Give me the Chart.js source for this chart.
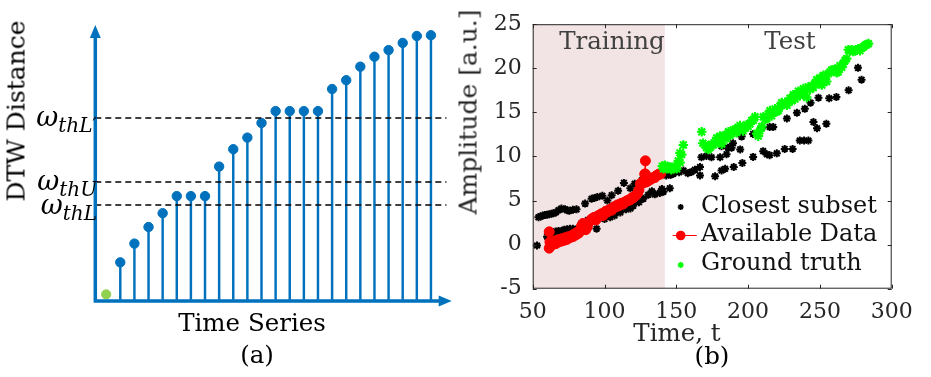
<!DOCTYPE html>
<html>
<head>
<meta charset="utf-8">
<script src="https://cdn.jsdelivr.net/npm/chart.js@4.4.0/dist/chart.umd.min.js"></script>
<style>
  body { margin: 0; background: #fff; }
  #wrap { position: relative; width: 931px; height: 377px; overflow: hidden; font-family: "DejaVu Serif", serif; }
  canvas { position: absolute; top: 0; }
  #cA { left: 0; }
  #cB { left: 465px; }
  .lbl { position: absolute; white-space: nowrap; line-height: 1; transform: translate(-50%, -50%); }
  .rot { transform: translate(-50%, -50%) rotate(-90deg); }
  .om { position: absolute; white-space: nowrap; line-height: 1; font-style: italic; font-size: 27px; color: #000; }
  .om sub { font-size: 20px; vertical-align: -0.3em; line-height: 0; }
  .leg { position: absolute; white-space: nowrap; line-height: 1; font-size: 24px; color: #111; transform: translateY(-50%); }
</style>
</head>
<body>
<div id="wrap">
  <canvas id="cA" width="465" height="377"></canvas>
  <canvas id="cB" width="466" height="377"></canvas>

  <div class="lbl rot" style="left:16px; top:111px; font-size:25px;">DTW Distance</div>
  <div class="lbl" style="left:252px; top:323px; font-size:24.5px;">Time Series</div>
  <div class="lbl" style="left:257px; top:355px; font-size:24.5px;">(a)</div>
  <div id="omegas"></div>

  <div class="lbl rot" style="left:468px; top:112px; font-size:25px; color:#262626;">Amplitude [a.u.]</div>
  <div class="lbl" style="left:677px; top:333px; font-size:24.5px; color:#262626;">Time, t</div>
  <div class="lbl" style="left:712px; top:356px; font-size:24.5px;">(b)</div>
  <div class="lbl" style="left:612px; top:41px; font-size:24.5px; color:#404040;">Training</div>
  <div class="lbl" style="left:790px; top:41px; font-size:24.5px; color:#404040;">Test</div>
  <div id="legend"></div>
</div>

<script>
// ---- panel (a): DTW distance of successive subsets ----
const stemIndex = [1, 2, 3, 4, 5, 6, 7, 8, 9, 10, 11, 12, 13, 14, 15, 16, 17, 18, 19, 20, 21, 22, 23];
const stemDist = [1.40, 2.08, 2.68, 3.18, 3.80, 3.80, 3.80, 4.87, 5.50, 5.92, 6.45, 6.88,
                  6.88, 6.88, 6.88, 7.68, 8.00, 8.49, 8.85, 9.09, 9.35, 9.60, 9.63];
const startIndex = [0];
const startDist = [0.24];
const thresholdSubs = ["thL\u2032", 'thU', 'thL'];
const thresholdValues = [6.63, 4.31, 3.48];
const indexRange = [-0.77, 24.47];
const distRange = [0, 10];
const dashEnd = 24.1;

// ---- panel (b): amplitude vs time ----
const seriesNames = ['Closest subset', 'Available Data', 'Ground truth'];
const timeRange = [50, 300];
const ampRange = [-5, 25];
const trainEnd = 142;

const closestSubset = [
  [53,-0.1],[54,3.1],[55.5,3.2],[57,3.3],[58.5,3.35],[60,3.4],[61.5,3.45],[63,3.5],[64.5,3.55],[66,3.65],
  [68,3.9],[70,4.1],[72.5,4.0],[74,3.9],[75.5,3.85],[78,3.95],[80.5,4.0],[86.5,4.65],[91,5.2],[93,5.3],
  [95,5.4],[98.5,5.55],[102,5.0],[105,5.6],[109.5,6.1],[113.5,7.0],[118,6.4],[121,6.9],[122.5,6.85],[126,7.3],
  [129,7.4],[60,0.9],[62,1.2],[64,1.3],[66,1.5],[68,1.55],[70,1.55],[72,1.7],[74,1.75],[76,1.8],
  [78,1.8],[80.5,1.75],[84,2.4],[88.5,2.8],[94.5,1.8],[100,2.9],[104,3.1],[107,3.3],[111,3.65],[115,4.0],
  [118,4.1],[120,4.4],[124,4.8],[127,5.2],[130.5,5.65],[133,6.05],[135,5.7],[138.5,5.85],[140,6.3],[141,6.0],
  [145.5,6.4],[143,7.85],[146,7.9],[148,8.05],[152,8.2],[155,8.4],[158,8.1],[160.5,8.25],[163,8.5],[166.5,8.8],
  [166.5,7.85],[167.5,9.9],[171,10.05],[174.5,9.9],[177,7.75],[180.5,9.9],[181.5,11.15],[185,10.25],[186,11.0],[188.5,11.0],
  [189.5,11.5],[194.5,10.8],[195.5,12.25],[181.5,8.4],[184,8.6],[190,8.8],[196,9.25],[203.5,9.95],[210.5,10.6],[213,10.25],
  [215,10.15],[220,10.35],[225.5,10.85],[231,10.85],[236,11.8],[239,11.8],[242,11.8],[245.5,13.9],[248,13.2],[254.5,13.7],
  [203.5,12.55],[209.5,13.2],[215,13.35],[217.5,13.35],[227,14.3],[234,14.95],[239.5,15.4],[243.5,16.1],[249,16.65],[256.5,16.6],
  [261.5,16.75],[270,17.5],[276.5,20.05],[279,18.7]
];

const availableData = [
  [61.5,1.45],[61.5,-0.4],[62,0.3],[63,-0.1],[64,0.2],[65,0.4],[66,0.1],[67,0.5],[68,0.3],[69,0.6],
  [70,0.4],[71,0.7],[72,0.5],[73,0.8],[74,0.6],[75,0.9],[76,0.8],[77,1.0],[78,0.9],[79,1.2],
  [80,1.1],[81,1.4],[82,1.3],[83,1.6],[84,2.1],[85,2.4],[86,2.2],[87,1.7],[88,2.0],[89,2.5],
  [90,2.7],[91,2.9],[92,3.0],[93,3.1],[94,2.8],[95,3.2],[96,3.3],[97,3.4],[98,3.5],[99,3.3],
  [100,3.6],[101,3.8],[102,3.7],[103,3.9],[104,4.0],[105,3.9],[106,4.2],[107,4.3],[108,4.3],[109,4.5],
  [110,4.4],[111,4.6],[112,4.7],[113,4.6],[114,4.8],[115,4.9],[116,5.0],[117,5.0],[118,5.1],[119,5.3],
  [120,5.3],[121,5.5],[122,5.6],[123,5.8],[124,6.2],[125,6.9],[126,7.0],[127,7.0],[128,8.0],[128.5,9.5],
  [128.5,8.0],[129,7.1],[130,7.2],[131,7.3],[132,7.4],[133,7.5],[134,7.6],[135,7.6],[136,7.8],[137,7.9],
  [138,8.0],[139,8.0]
];

const groundTruth = [
  [140.3,8.9],[141,8.6],[142,9.0],[143.3,8.6],[144.5,8.8],[145.6,8.8],[146.5,8.5],[148,8.6],[149,8.9],[150.3,8.6],
  [151.4,9.5],[152.6,9.3],[152.6,10.4],[153.7,10.2],[154.9,11.3],[167.7,12.8],[168.5,11.5],[170,11.3],[171,11.0],[172.3,10.8],
  [173.5,11.0],[174.5,11.4],[175.8,11.3],[177,11.5],[178.1,12.1],[179,11.8],[180.4,12.3],[181.6,11.4],[182.8,12.3],[183.9,12.4],
  [185,12.0],[186.3,12.8],[187.4,12.4],[188.5,12.6],[189.7,13.0],[190.9,13.0],[192,12.7],[193,13.3],[194.4,13.5],[195.5,13.1],
  [196.5,12.9],[197.9,13.2],[199,13.6],[200,13.4],[201.3,13.7],[202.5,14.1],[203.7,14.1],[204.8,14.5],[206,12.6],[207.1,12.3],
  [208.2,12.9],[209.5,13.4],[210.6,14.5],[212,14.2],[213,14.3],[214,14.8],[215.2,15.2],[216.4,14.6],[217.5,15.0],[218.8,15.4],
  [220,15.1],[221,15.2],[222.2,15.7],[223.4,16.1],[224.5,15.9],[225.7,16.1],[227,15.8],[228,16.3],[229.2,16.6],[230.5,16.3],
  [231.5,17.0],[232.7,16.5],[234,16.8],[235,17.4],[236.1,16.9],[237.3,17.2],[238.5,17.7],[239.6,17.5],[240.8,16.7],[242,17.9],
  [243.2,17.6],[244.3,18.0],[245.4,17.8],[246.6,18.3],[247.8,18.7],[248.9,18.5],[250,18.9],[251.3,18.1],[252.4,19.2],[253.6,19.1],
  [254.7,18.5],[256,19.4],[257.1,19.6],[258.2,19.8],[259.3,19.8],[260.5,19.9],[261.7,19.5],[262.8,19.6],[264,20.3],[265.2,20.1],
  [266.3,20.5],[267.5,20.9],[268.6,21.1],[269.8,22.1],[270.9,22.0],[272.1,22.1],[273.2,21.9],[274.4,22.0],[275.6,22.1],[276.7,22.2],
  [277.9,22.0],[279.1,22.3],[280.2,22.4],[281.4,22.6],[282.6,22.7],[283.8,22.8]
];

const BLUE = '#0072BD';
const toPts = arr => arr.map(p => ({ x: p[0], y: p[1] }));
const zip = (xs, ys) => xs.map((x, i) => ({ x: x, y: ys[i] }));

// omega labels (left of panel a)
const omTops = [103, 167, 191];
document.getElementById('omegas').innerHTML = thresholdSubs.map((s, i) =>
  `<div class="om" style="right:${931 - 97}px; top:${omTops[i]}px;">\u03C9<sub>${s}</sub></div>`
).join('');

// legend labels (panel b)
const legRows = [205, 233, 262];
document.getElementById('legend').innerHTML = seriesNames.map((n, i) =>
  `<div class="leg" style="left:701px; top:${legRows[i]}px;">${n}</div>`
).join('');

// ---------- panel (a) ----------
const arrowAxes = {
  id: 'arrowAxes',
  afterDraw(chart) {
    const { ctx, chartArea: a } = chart;
    ctx.save();
    ctx.strokeStyle = BLUE;
    ctx.fillStyle = BLUE;
    ctx.lineWidth = 3.5;
    ctx.beginPath();
    ctx.moveTo(a.left, a.bottom + 1.5);
    ctx.lineTo(a.left, a.top + 10);
    ctx.moveTo(a.left - 1.5, a.bottom);
    ctx.lineTo(a.right - 10, a.bottom);
    ctx.stroke();
    ctx.beginPath();
    ctx.moveTo(a.left, a.top);
    ctx.lineTo(a.left - 5.5, a.top + 13);
    ctx.lineTo(a.left + 5.5, a.top + 13);
    ctx.closePath();
    ctx.fill();
    ctx.beginPath();
    ctx.moveTo(a.right, a.bottom);
    ctx.lineTo(a.right - 13, a.bottom - 5.5);
    ctx.lineTo(a.right - 13, a.bottom + 5.5);
    ctx.closePath();
    ctx.fill();
    ctx.restore();
  }
};

const dashSets = thresholdValues.map(v => ({
  type: 'line',
  data: [{ x: indexRange[0], y: v }, { x: dashEnd, y: v }],
  borderColor: '#000',
  borderWidth: 1.6,
  borderDash: [6, 4],
  pointRadius: 0,
  order: 0
}));

new Chart(document.getElementById('cA'), {
  type: 'bar',
  data: {
    datasets: [
      ...dashSets,
      {
        type: 'line',
        data: zip(stemIndex, stemDist),
        showLine: false,
        pointRadius: 4.7,
        pointBackgroundColor: BLUE,
        pointBorderColor: BLUE,
        order: 1
      },
      {
        type: 'line',
        data: zip(startIndex, startDist),
        showLine: false,
        pointRadius: 4.6,
        pointBackgroundColor: '#92D050',
        pointBorderColor: '#92D050',
        order: 1
      },
      {
        type: 'bar',
        data: zip(stemIndex, stemDist),
        backgroundColor: BLUE,
        barThickness: 1.8,
        order: 2
      }
    ]
  },
  options: {
    responsive: false,
    animation: false,
    layout: { padding: { left: 95.3, top: 25, right: 13.3, bottom: 76 } },
    plugins: { legend: { display: false }, tooltip: { enabled: false } },
    scales: {
      x: { type: 'linear', display: false, min: indexRange[0], max: indexRange[1], offset: false },
      y: { display: false, min: distRange[0], max: distRange[1] }
    }
  },
  plugins: [arrowAxes]
});

// ---------- panel (b) ----------
const boxFrame = {
  id: 'boxFrame',
  beforeDatasetsDraw(chart) {
    const { ctx, chartArea: a, scales } = chart;
    const xe = scales.x.getPixelForValue(trainEnd);
    ctx.save();
    ctx.fillStyle = '#F2E4E5';
    ctx.fillRect(a.left, a.top, xe - a.left, a.bottom - a.top);
    ctx.restore();
  },
  afterDraw(chart) {
    const { ctx, chartArea: a, scales } = chart;
    ctx.save();
    ctx.strokeStyle = '#262626';
    ctx.lineWidth = 1;
    ctx.strokeRect(a.left + 0.5, a.top + 0.5, a.right - a.left - 1, a.bottom - a.top - 1);
    ctx.beginPath();
    scales.x.ticks.forEach(t => {
      const px = Math.round(scales.x.getPixelForValue(t.value)) + 0.5;
      ctx.moveTo(px, a.bottom); ctx.lineTo(px, a.bottom - 4);
      ctx.moveTo(px, a.top); ctx.lineTo(px, a.top + 4);
    });
    scales.y.ticks.forEach(t => {
      const py = Math.round(scales.y.getPixelForValue(t.value)) + 0.5;
      ctx.moveTo(a.left, py); ctx.lineTo(a.left + 4, py);
      ctx.moveTo(a.right, py); ctx.lineTo(a.right - 4, py);
    });
    ctx.stroke();

    // legend markers
    const mx = a.left + 148, ys = [207, 235.5, 265];
    const star = (x, y, r, c) => {
      ctx.strokeStyle = c; ctx.lineWidth = 1.5; ctx.beginPath();
      ctx.moveTo(x - r, y); ctx.lineTo(x + r, y);
      ctx.moveTo(x, y - r); ctx.lineTo(x, y + r);
      const d = r * 0.707;
      ctx.moveTo(x - d, y - d); ctx.lineTo(x + d, y + d);
      ctx.moveTo(x - d, y + d); ctx.lineTo(x + d, y - d);
      ctx.stroke();
    };
    star(mx, ys[0], 3, '#000');
    ctx.strokeStyle = '#FF0000'; ctx.lineWidth = 1; ctx.beginPath();
    ctx.moveTo(mx - 8, ys[1]); ctx.lineTo(mx + 16, ys[1]); ctx.stroke();
    ctx.fillStyle = '#FF0000'; ctx.beginPath(); ctx.arc(mx, ys[1], 4.8, 0, Math.PI * 2); ctx.fill();
    star(mx, ys[2], 3, '#00FF00');
    ctx.restore();
  }
};

const tickFont = { family: 'DejaVu Serif', size: 22 };

new Chart(document.getElementById('cB'), {
  type: 'scatter',
  data: {
    datasets: [
      {
        label: seriesNames[2],
        data: toPts(groundTruth),
        pointStyle: 'star',
        pointRadius: 4.8,
        borderColor: '#00FF00',
        backgroundColor: '#00FF00',
        borderWidth: 2.2,
        order: 1
      },
      {
        label: seriesNames[1],
        data: toPts(availableData),
        showLine: true,
        borderColor: '#FF0000',
        backgroundColor: '#FF0000',
        borderWidth: 1,
        pointRadius: 5,
        pointBackgroundColor: '#FF0000',
        order: 2
      },
      {
        label: seriesNames[0],
        data: toPts(closestSubset),
        pointStyle: 'star',
        pointRadius: 4,
        borderColor: '#000',
        backgroundColor: '#000',
        borderWidth: 2,
        order: 3
      }
    ]
  },
  options: {
    responsive: false,
    animation: false,
    layout: { padding: { left: 0, top: 15.7, right: 39.3, bottom: 0 } },
    plugins: { legend: { display: false }, tooltip: { enabled: false } },
    scales: {
      x: {
        type: 'linear', min: timeRange[0], max: timeRange[1],
        grid: { display: false, drawTicks: false }, border: { display: false },
        ticks: { stepSize: 50, font: tickFont, color: '#262626', padding: 10, maxRotation: 0 },
        afterFit(s) { s.height = 88.3; }
      },
      y: {
        min: ampRange[0], max: ampRange[1],
        grid: { display: false, drawTicks: false }, border: { display: false },
        ticks: { stepSize: 5, font: tickFont, color: '#262626', padding: 11 },
        afterFit(s) { s.width = 67.7; }
      }
    }
  },
  plugins: [boxFrame]
});
</script>
</body>
</html>
